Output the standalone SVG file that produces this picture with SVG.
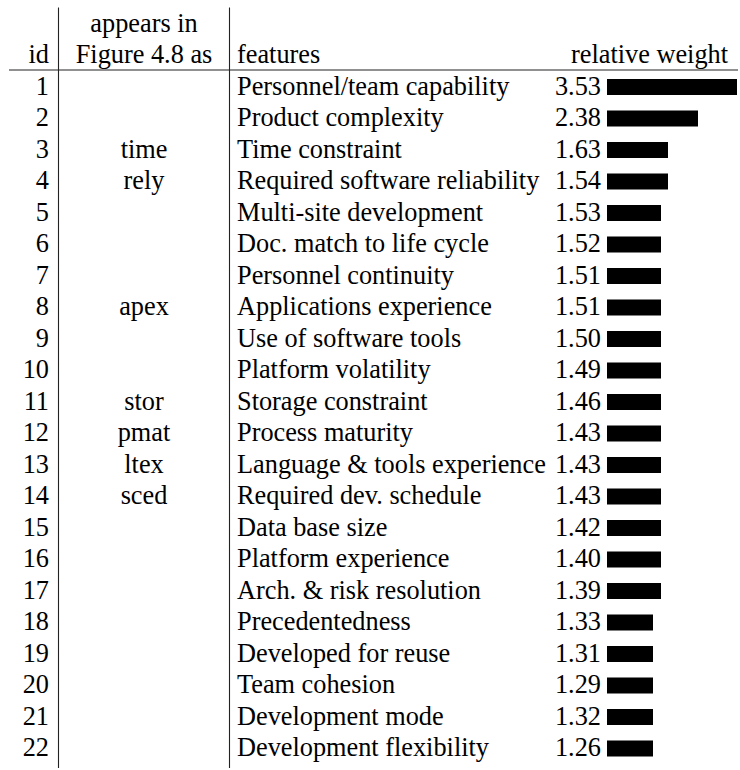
<svg xmlns="http://www.w3.org/2000/svg" width="740" height="770" viewBox="0 0 740 770">
  <style>
    .r { text-anchor: end; }
    .c { text-anchor: middle; }
    .rule { stroke: #222; stroke-width: 1.1; fill: none; }
    .bar { fill: #000; }
  </style>
  <rect width="740" height="770" fill="#fff"/>

  <!-- table rules -->
  <g id="rules">
    <line class="rule" x1="58.5" y1="7.5" x2="58.5" y2="768"/>
    <line class="rule" x1="229.5" y1="7.5" x2="229.5" y2="768"/>
    <line class="rule" x1="9" y1="70" x2="738" y2="70"/>
  </g>

  <g font-family="Liberation Serif" font-size="26.3" fill="#000">
  <!-- header -->
  <g id="header">
    <text class="c" x="144" y="31.5">appears in</text>
    <text class="r" x="49" y="63">id</text>
    <text class="c" x="144" y="63">Figure 4.8 as</text>
    <text x="237" y="63">features</text>
    <text class="r" x="728" y="63">relative weight</text>
  </g>

  <!-- id column -->
  <g id="ids">
    <text class="r" x="49" y="94.5">1</text>
    <text class="r" x="49" y="126">2</text>
    <text class="r" x="49" y="157.5">3</text>
    <text class="r" x="49" y="189">4</text>
    <text class="r" x="49" y="220.5">5</text>
    <text class="r" x="49" y="252">6</text>
    <text class="r" x="49" y="283.5">7</text>
    <text class="r" x="49" y="315">8</text>
    <text class="r" x="49" y="346.5">9</text>
    <text class="r" x="49" y="378">10</text>
    <text class="r" x="49" y="409.5">11</text>
    <text class="r" x="49" y="441">12</text>
    <text class="r" x="49" y="472.5">13</text>
    <text class="r" x="49" y="504">14</text>
    <text class="r" x="49" y="535.5">15</text>
    <text class="r" x="49" y="567">16</text>
    <text class="r" x="49" y="598.5">17</text>
    <text class="r" x="49" y="630">18</text>
    <text class="r" x="49" y="661.5">19</text>
    <text class="r" x="49" y="693">20</text>
    <text class="r" x="49" y="724.5">21</text>
    <text class="r" x="49" y="756">22</text>
  </g>

  <!-- figure labels -->
  <g id="labels">
    <text class="c" x="144" y="157.5">time</text>
    <text class="c" x="144" y="189">rely</text>
    <text class="c" x="144" y="315">apex</text>
    <text class="c" x="144" y="409.5">stor</text>
    <text class="c" x="144" y="441">pmat</text>
    <text class="c" x="144" y="472.5">ltex</text>
    <text class="c" x="144" y="504">sced</text>
  </g>

  <!-- feature names -->
  <g id="features">
    <text x="237" y="94.5">Personnel/team capability</text>
    <text x="237" y="126">Product complexity</text>
    <text x="237" y="157.5">Time constraint</text>
    <text x="237" y="189">Required software reliability</text>
    <text x="237" y="220.5">Multi-site development</text>
    <text x="237" y="252">Doc. match to life cycle</text>
    <text x="237" y="283.5">Personnel continuity</text>
    <text x="237" y="315">Applications experience</text>
    <text x="237" y="346.5">Use of software tools</text>
    <text x="237" y="378">Platform volatility</text>
    <text x="237" y="409.5">Storage constraint</text>
    <text x="237" y="441">Process maturity</text>
    <text x="237" y="472.5">Language &amp; tools experience</text>
    <text x="237" y="504">Required dev. schedule</text>
    <text x="237" y="535.5">Data base size</text>
    <text x="237" y="567">Platform experience</text>
    <text x="237" y="598.5">Arch. &amp; risk resolution</text>
    <text x="237" y="630">Precedentedness</text>
    <text x="237" y="661.5">Developed for reuse</text>
    <text x="237" y="693">Team cohesion</text>
    <text x="237" y="724.5">Development mode</text>
    <text x="237" y="756">Development flexibility</text>
  </g>

  <!-- weights -->
  <g id="weights">
    <text class="r" x="601" y="94.5">3.53</text>
    <text class="r" x="601" y="126">2.38</text>
    <text class="r" x="601" y="157.5">1.63</text>
    <text class="r" x="601" y="189">1.54</text>
    <text class="r" x="601" y="220.5">1.53</text>
    <text class="r" x="601" y="252">1.52</text>
    <text class="r" x="601" y="283.5">1.51</text>
    <text class="r" x="601" y="315">1.51</text>
    <text class="r" x="601" y="346.5">1.50</text>
    <text class="r" x="601" y="378">1.49</text>
    <text class="r" x="601" y="409.5">1.46</text>
    <text class="r" x="601" y="441">1.43</text>
    <text class="r" x="601" y="472.5">1.43</text>
    <text class="r" x="601" y="504">1.43</text>
    <text class="r" x="601" y="535.5">1.42</text>
    <text class="r" x="601" y="567">1.40</text>
    <text class="r" x="601" y="598.5">1.39</text>
    <text class="r" x="601" y="630">1.33</text>
    <text class="r" x="601" y="661.5">1.31</text>
    <text class="r" x="601" y="693">1.29</text>
    <text class="r" x="601" y="724.5">1.32</text>
    <text class="r" x="601" y="756">1.26</text>
  </g>
  </g>

  <!-- weight bars -->
  <g id="bars">
    <rect class="bar" x="607" y="79" width="130" height="16"/>
    <rect class="bar" x="607" y="110.5" width="91" height="16"/>
    <rect class="bar" x="607" y="142" width="61" height="16"/>
    <rect class="bar" x="607" y="173.5" width="61" height="16"/>
    <rect class="bar" x="607" y="205" width="54" height="16"/>
    <rect class="bar" x="607" y="236.5" width="54" height="16"/>
    <rect class="bar" x="607" y="268" width="54" height="16"/>
    <rect class="bar" x="607" y="299.5" width="54" height="16"/>
    <rect class="bar" x="607" y="331" width="54" height="16"/>
    <rect class="bar" x="607" y="362.5" width="54" height="16"/>
    <rect class="bar" x="607" y="394" width="54" height="16"/>
    <rect class="bar" x="607" y="425.5" width="54" height="16"/>
    <rect class="bar" x="607" y="457" width="54" height="16"/>
    <rect class="bar" x="607" y="488.5" width="54" height="16"/>
    <rect class="bar" x="607" y="520" width="54" height="16"/>
    <rect class="bar" x="607" y="551.5" width="54" height="16"/>
    <rect class="bar" x="607" y="583" width="54" height="16"/>
    <rect class="bar" x="607" y="614.5" width="46" height="16"/>
    <rect class="bar" x="607" y="646" width="46" height="16"/>
    <rect class="bar" x="607" y="677.5" width="46" height="16"/>
    <rect class="bar" x="607" y="709" width="46" height="16"/>
    <rect class="bar" x="607" y="740.5" width="46" height="16"/>
  </g>
</svg>
